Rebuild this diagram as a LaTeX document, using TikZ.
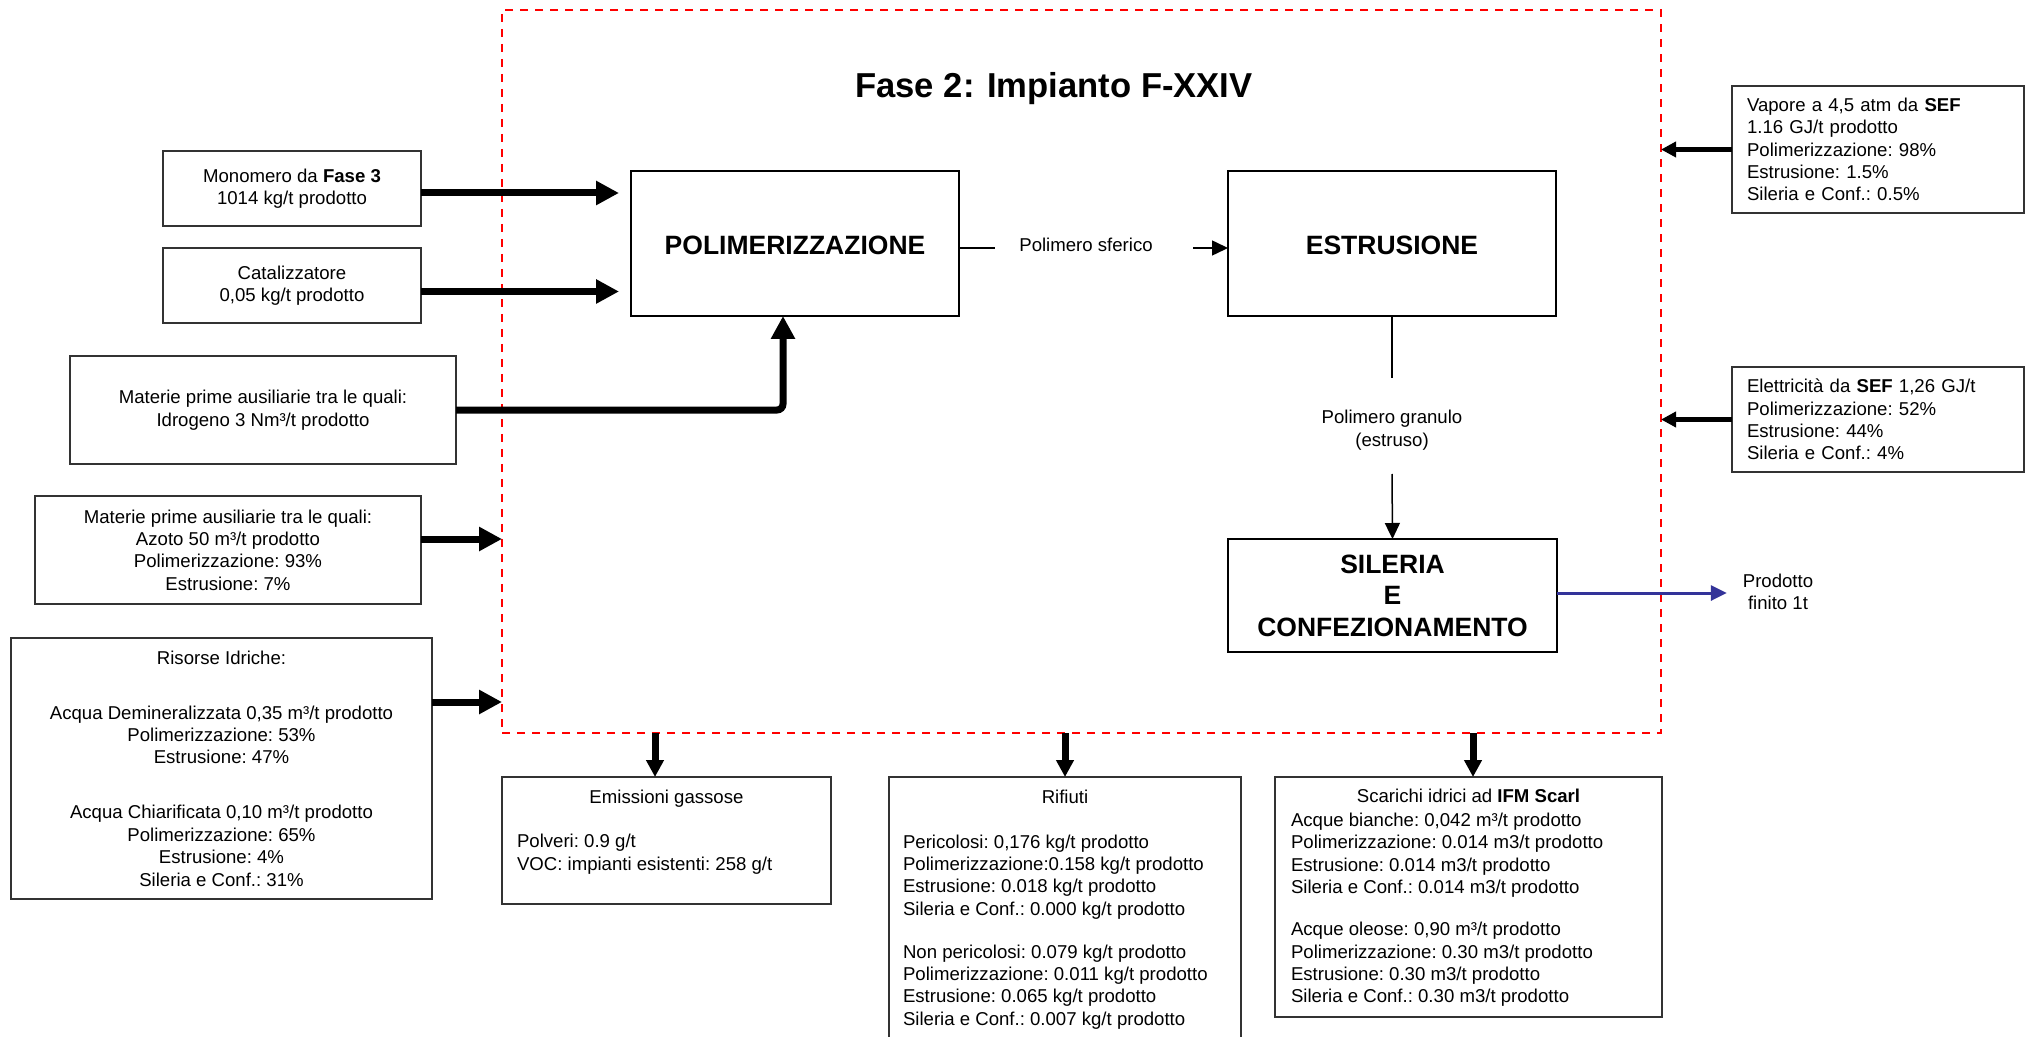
\documentclass[tikz,border=0pt]{standalone}
\usepackage{fontspec}
\setmainfont{Liberation Sans}
\usetikzlibrary{arrows.meta,calc}
\definecolor{dashred}{RGB}{255,0,0}
\definecolor{prodblue}{RGB}{51,51,153}
\definecolor{boxgray}{RGB}{51,51,51}
\newcommand\bodyfnt{\fontsize{9.3pt}{11.2pt}\selectfont\frenchspacing}
\newcommand\procfnt{\fontsize{13.25pt}{15.75pt}\selectfont\bfseries}
\newcommand\lowertext[1]{\raisebox{-1pt}[\height][\depth]{#1}}
\begin{document}
\begin{tikzpicture}[x=0.5pt,y=-0.5pt,
  every node/.style={font=\bodyfnt, inner sep=0pt, outer sep=0pt},
  inbox/.style={draw=boxgray, line width=0.75pt, align=center},
  procbox/.style={draw=black, line width=1pt, font=\procfnt, align=center},
  sidebox/.style={draw=boxgray, line width=0.75pt, align=left, inner xsep=7.5pt, text width=131pt, minimum width=146pt},
  outbox/.style={draw=boxgray, line width=0.75pt, anchor=north west},
  bigarrow/.style={line width=3.5pt, -{Triangle[length=11.5pt,width=11.5pt]}},
  downarrow/.style={line width=3.5pt, -{Triangle[length=8.5pt,width=8.5pt]}},
  sidearrow/.style={line width=2.5pt, -{Triangle[length=7.5pt,width=7.5pt]}},
  thinarrow/.style={line width=0.75pt, -{Triangle[length=8pt,width=7.5pt]}},
  thinline/.style={line width=0.75pt},
  prodarrow/.style={draw=prodblue, line width=1.5pt, -{Triangle[length=8pt,width=7.5pt]}},
  phase/.style={draw=dashred, line width=1.2pt, dash pattern=on 4pt off 3.5pt},
]
\path[use as bounding box] (0,0) rectangle (2033,1037);
\clip (0,0) rectangle (2033,1037);
\fill[white] (0,0) rectangle (2033,1037);

% phase boundary and title
\node[phase, minimum width=579.5pt, minimum height=361.5pt] (fase) at (1081.5,371.5) {};
\node[font=\fontsize{17.3pt}{20pt}\selectfont\bfseries, anchor=base] (title) at (1054,98) {Fase 2: Impianto F-XXIV};

% process blocks
\node[procbox, minimum width=164pt, minimum height=72.5pt] (polim) at (795,243.5) {\lowertext{POLIMERIZZAZIONE}};
\node[procbox, minimum width=164pt, minimum height=72.5pt] (estr) at (1392,243.5) {\lowertext{ESTRUSIONE}};
\node[procbox, minimum width=164.5pt, minimum height=56.5pt] (sil) at (1392.5,595.5) {SILERIA\\E\\CONFEZIONAMENTO};

% inputs
\node[inbox, minimum width=129pt, minimum height=37.5pt] (mono) at (292,188.5) {Monomero da \textbf{Fase 3}\\1014 kg/t prodotto};
\node[inbox, minimum width=129pt, minimum height=37.5pt] (cat) at (292,285.5) {Catalizzatore\\0,05 kg/t prodotto};
\node[inbox, minimum width=193pt, minimum height=54pt] (mat) at (263,410) {Materie prime ausiliarie tra le quali:\\Idrogeno 3 Nm³/t prodotto};
\node[inbox, minimum width=193pt, minimum height=54pt] (azo) at (228,550) {Materie prime ausiliarie tra le quali:\\Azoto 50 m³/t prodotto\\Polimerizzazione: 93\%\\Estrusione: 7\%};
\node[inbox, minimum width=210.5pt, minimum height=130.5pt] (ris) at (221.5,768.5) {Risorse Idriche:\\[16.3pt]Acqua Demineralizzata 0,35 m³/t prodotto\\Polimerizzazione: 53\%\\Estrusione: 47\%\\[16.3pt]Acqua Chiarificata 0,10 m³/t prodotto\\Polimerizzazione: 65\%\\Estrusione: 4\%\\Sileria e Conf.: 31\%};

% utilities
\node[sidebox, minimum height=63.5pt] (vap) at (1878,149.5) {Vapore a 4,5 atm da \textbf{SEF}\\1.16 GJ/t prodotto\\Polimerizzazione: 98\%\\Estrusione: 1.5\%\\Sileria e Conf.: 0.5\%};
\node[sidebox, minimum height=52.5pt] (ele) at (1878,419.5) {Elettricità da \textbf{SEF} 1,26 GJ/t\\Polimerizzazione: 52\%\\Estrusione: 44\%\\Sileria e Conf.: 4\%};

% outputs
\node[outbox] (emi) at (502,777) {\parbox[b][63.5pt][t]{164.5pt}{{\centering\rule{0pt}{13pt}Emissioni gassose\par}\vspace{11.2pt}{\leftskip=7.5pt Polveri: 0.9 g/t\\VOC: impianti esistenti: 258 g/t\par}}};
\node[outbox] (rif) at (889,777) {\parbox[b][135pt][t]{176pt}{{\centering\rule{0pt}{13pt}Rifiuti\par}\vspace{11.3pt}{\leftskip=7pt Pericolosi: 0,176 kg/t prodotto\\Polimerizzazione:0.158 kg/t prodotto\\Estrusione: 0.018 kg/t prodotto\\Sileria e Conf.: 0.000 kg/t prodotto\\[10.2pt]Non pericolosi: 0.079 kg/t prodotto\\Polimerizzazione: 0.011 kg/t prodotto\\Estrusione: 0.065 kg/t prodotto\\Sileria e Conf.: 0.007 kg/t prodotto\par}}};
\node[outbox] (sca) at (1275,777) {\parbox[b][120pt][t]{193.5pt}{{\centering\rule{0pt}{12.5pt}Scarichi idrici ad \textbf{IFM Scarl}\par}\vspace{1pt}{\leftskip=8pt Acque bianche: 0,042 m³/t prodotto\\Polimerizzazione: 0.014 m3/t prodotto\\Estrusione: 0.014 m3/t prodotto\\Sileria e Conf.: 0.014 m3/t prodotto\\[9.8pt]Acque oleose: 0,90 m³/t prodotto\\Polimerizzazione: 0.30 m3/t prodotto\\Estrusione: 0.30 m3/t prodotto\\Sileria e Conf.: 0.30 m3/t prodotto\par}}};

% flow labels
\node[align=center] (sfer) at (1086,245) {Polimero sferico};
\node[align=center] (gran) at (1392,430) {Polimero granulo\\(estruso)};
\node[align=center] (prod) at (1778,592) {Prodotto\\finito 1t};
\coordinate (s1) at (995,248);
\coordinate (s2) at (1193,248);
\coordinate (g1) at (1392,378);
\coordinate (g2) at (1392,474);

% input connectors
\draw[bigarrow, shorten >=6pt] ([yshift=-2.25pt]mono.east) coordinate (m1) -- (m1 -| polim.west);
\draw[bigarrow, shorten >=6pt] ([yshift=-3pt]cat.east) coordinate (c1) -- (c1 -| polim.west);
\draw[bigarrow, rounded corners=3pt] (mat.east) -| ([xshift=-6pt]polim.south);
\draw[bigarrow] ([yshift=5.5pt]azo.east) coordinate (a1) -- (a1 -| fase.west);
\draw[bigarrow] ([yshift=33.25pt]ris.east) coordinate (r1) -- (r1 -| fase.west);
\draw[sidearrow] (vap.west) -- (vap.west -| fase.east);
\draw[sidearrow] (ele.west) -- (ele.west -| fase.east);

% internal flow
\draw[thinline] (s1 -| polim.east) -- (s1);
\draw[thinarrow] (s2) -- (s2 -| estr.west);
\draw[thinline] (estr.south) -- (g1);
\draw[thinarrow] (g2) -- (sil.north);
\draw[prodarrow, shorten >=8pt] ([yshift=1.25pt]sil.east) coordinate (p1) -- (p1 -| prod.west);

% output connectors
\coordinate (e1) at ([xshift=-5.75pt]emi.north);
\coordinate (w1) at ([xshift=2.25pt]sca.north);
\draw[downarrow] (e1 |- fase.south) -- (e1);
\draw[downarrow] (rif.north |- fase.south) -- (rif.north);
\draw[downarrow] (w1 |- fase.south) -- (w1);
\end{tikzpicture}
\end{document}
